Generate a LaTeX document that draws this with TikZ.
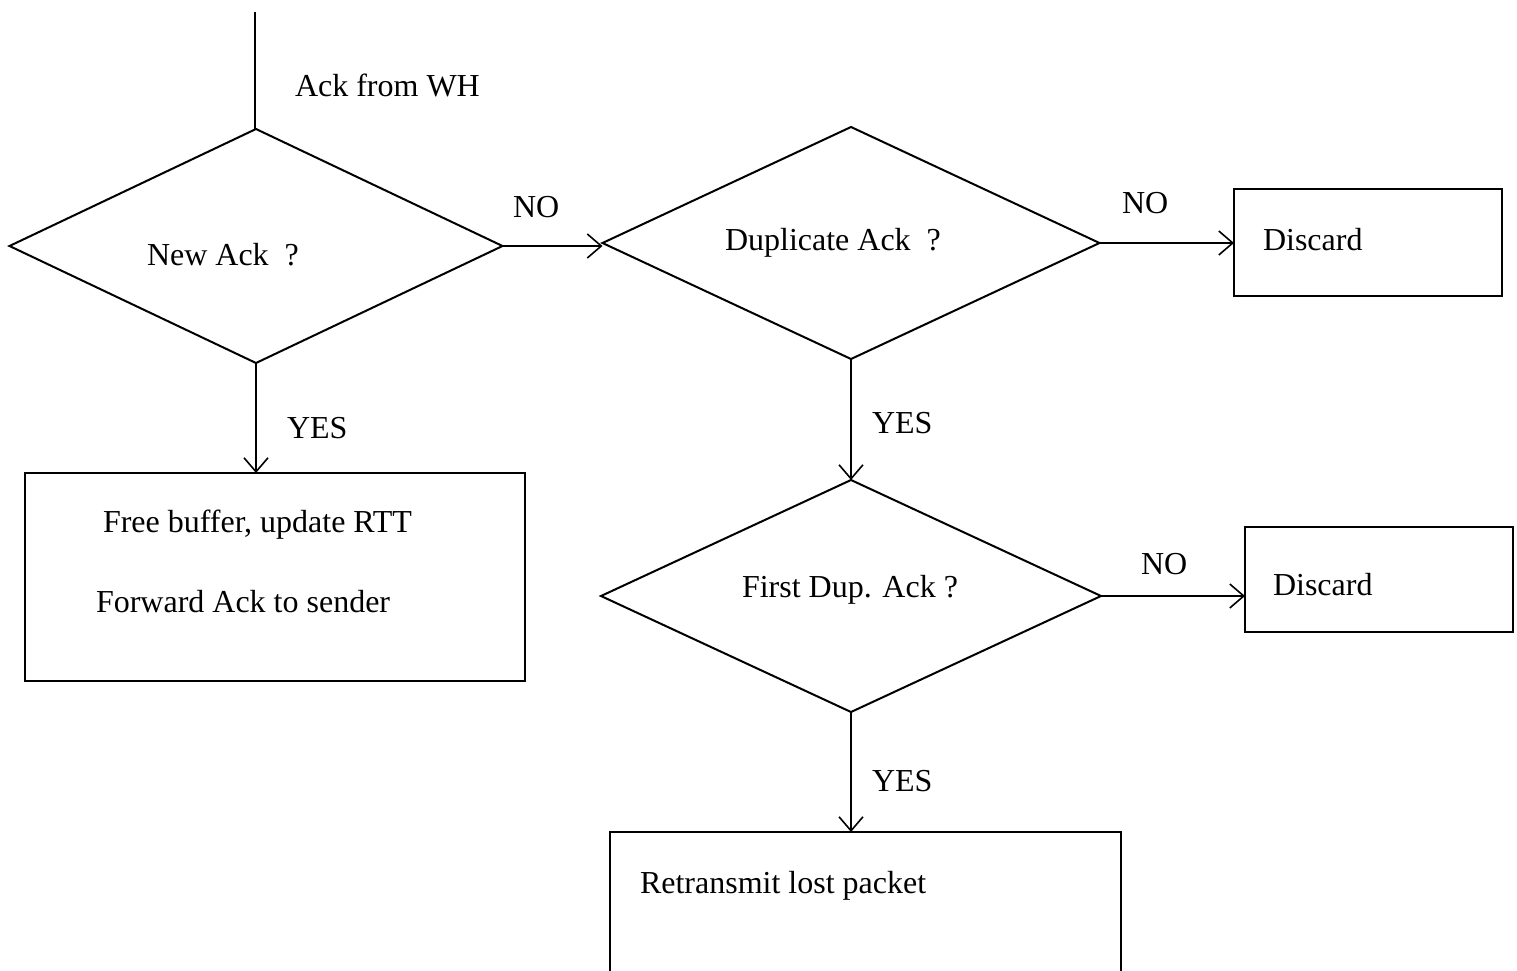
\documentclass[tikz,border=0pt]{standalone}
\usepackage{fontspec}
\setmainfont{Liberation Serif}
\usetikzlibrary{shapes.geometric,arrows.meta}
\begin{document}
\begin{tikzpicture}[x=1pt,y=-1pt,line width=2pt,
  every node/.style={font=\fontsize{32}{38}\selectfont,inner sep=0pt,outer sep=0pt},
  decision/.style n args={2}{draw,diamond,minimum width=#1,minimum height=#2},
  procbox/.style n args={2}{draw,rectangle,minimum width=#1,minimum height=#2},
  txt/.style={anchor=base west},
  flow/.style={-{Straight Barb[length=14pt,width=24pt,line width=1.6pt]}}]
\useasboundingbox (0,0) rectangle (1517,971);
\clip (0,0) rectangle (1517,971);
% shapes
\node[decision={493}{234}] (d1) at (256,246) {};
\node[decision={497}{232}] (d2) at (851,243) {};
\node[decision={500}{232}] (d3) at (851,596) {};
\node[procbox={268}{107}] (disc1) at (1368,242.5) {};
\node[procbox={268}{105}] (disc2) at (1379,579.5) {};
\node[procbox={500}{208}] (box1) at (275,577) {};
\node[procbox={511}{220}] (box3) at (865.5,942) {};
\coordinate (start) at (255,12);
% texts
\node[txt] (tack) at (295,97) {Ack from WH};
\node[txt] (tnew) at (147,265) {New Ack\ \ ?};
\node[txt] (tdup) at (725,250) {Duplicate Ack\ \ ?};
\node[txt] (tfirst) at (742,597) {First Dup. Ack ?};
\node[txt] (tdisc1) at (1263,250) {Discard};
\node[txt] (tdisc2) at (1273,595) {Discard};
\node[txt] (tfree) at (103,532) {Free buffer, update RTT};
\node[txt] (tfwd) at (96,612) {Forward Ack to sender};
\node[txt] (tret) at (640,893) {Retransmit lost packet};
\node[txt] (no1) at (513,217) {NO};
\node[txt] (no2) at (1122,213) {NO};
\node[txt] (no3) at (1141,574) {NO};
\node[txt] (yes1) at (287,438) {YES};
\node[txt] (yes2) at (872,433) {YES};
\node[txt] (yes3) at (872,791) {YES};
% connectors
\draw (start) -- (start |- d1.north);
\draw[flow] (d1.east) -- (d1.east -| d2.west);
\draw[flow] (d2.east) -- (d2.east -| disc1.west);
\draw[flow] (d3.east) -- (d3.east -| disc2.west);
\draw[flow] (d1.south) -- (d1.south |- box1.north);
\draw[flow] (d2.south) -- (d3.north);
\draw[flow] (d3.south) -- (d3.south |- box3.north);
\end{tikzpicture}
\end{document}
